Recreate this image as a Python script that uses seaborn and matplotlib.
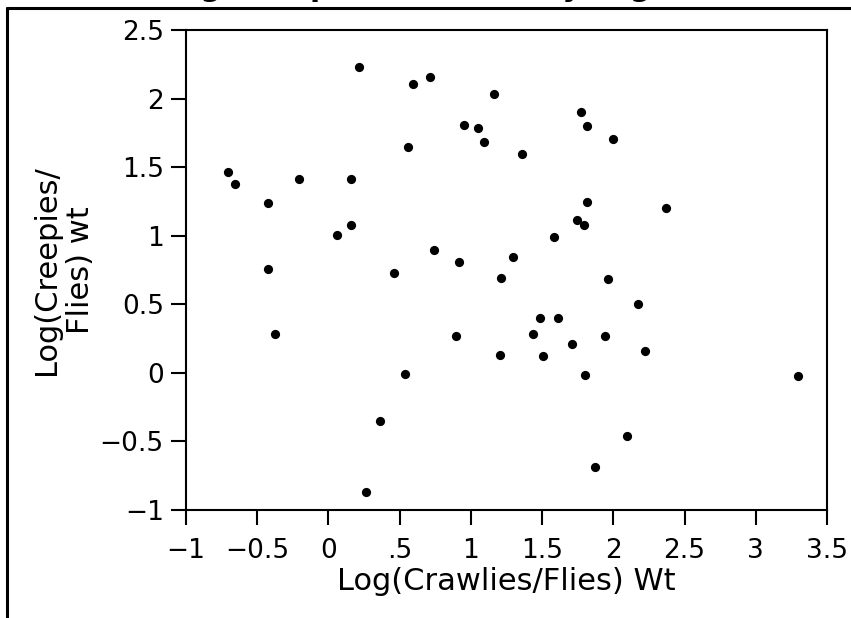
import matplotlib
matplotlib.use("Agg")
import matplotlib.pyplot as plt
import matplotlib.lines as mlines
import seaborn as sns
import pandas as pd

# values
crawlies = [0.217, 0.593, 0.714, 1.160, 0.951, 1.052, 1.092, 0.557, -0.705, -0.654,
            -0.204, 0.157, -0.427, 0.155, 0.061, 0.738, 0.918, 1.771, 1.813, 1.996,
            1.356, 1.813, 2.373, 1.745, 1.797, 1.583, 1.298, -0.424, 0.459, 1.211,
            -0.372, 0.897, 1.207, 0.536, 0.363, 0.265, 1.961, 2.171, 1.485, 1.614,
            1.434, 1.708, 1.944, 2.219, 1.506, 1.799, 3.294, 2.094, 1.871]
creepies = [2.230, 2.105, 2.156, 2.034, 1.807, 1.783, 1.683, 1.648, 1.461, 1.380,
            1.410, 1.417, 1.239, 1.075, 1.007, 0.898, 0.807, 1.899, 1.797, 1.702,
            1.595, 1.246, 1.202, 1.117, 1.080, 0.990, 0.846, 0.756, 0.727, 0.695,
            0.283, 0.266, 0.129, -0.007, -0.353, -0.868, 0.686, 0.505, 0.400, 0.400,
            0.285, 0.212, 0.268, 0.156, 0.124, -0.017, -0.022, -0.459, -0.690]

x_ticks = [-1, -0.5, 0, 0.5, 1, 1.5, 2, 2.5, 3, 3.5]
x_ticklabels = ["\u22121", "\u22120.5", "0", ".5", "1", "1.5", "2", "2.5", "3", "3.5"]
y_ticks = [-1, -0.5, 0, 0.5, 1, 1.5, 2, 2.5]
y_ticklabels = ["\u22121", "\u22120.5", "0", "0.5", "1", "1.5", "2", "2.5"]

df = pd.DataFrame({"crawl": crawlies, "creep": creepies})

sns.set_theme(style="white")
plt.rcParams["font.family"] = ["DejaVu Sans"]

W, H = 851, 618
fig = plt.figure(figsize=(W / 100, H / 100), dpi=100)
ax = fig.add_axes([186 / W, 1 - 510 / H, (827 - 186) / W, (510 - 30) / H])

sns.scatterplot(data=df, x="crawl", y="creep", ax=ax, color="black", s=44,
                linewidth=0, legend=False)

ax.set_xlim(-1, 3.5)
ax.set_ylim(-1, 2.5)
ax.set_xticks(x_ticks)
ax.set_xticklabels(x_ticklabels)
ax.set_yticks(y_ticks)
ax.set_yticklabels(y_ticklabels)
ax.tick_params(direction="out", length=11, width=1.5, color="black",
               labelsize=19, labelcolor="black", bottom=True, left=True)
ax.tick_params(axis="x", pad=9)
ax.tick_params(axis="y", pad=5)
for s in ax.spines.values():
    s.set_color("black")
    s.set_linewidth(1.5)

ax.set_xlabel("Log(Crawlies/Flies) Wt", fontsize=22, color="black", labelpad=2)
ax.set_ylabel("Log(Creepies/\nFlies) wt", fontsize=22, color="black",
              linespacing=1.2)
ax.yaxis.set_label_coords((95 - 186) / 641, 0.5)

# clipped report title along the top edge, only the descenders show
fig.text(162 / W, 1 + 4 / H, "Log(Creepies/Flies) wt By Log(Crawlies/Flies) Wt",
         fontsize=21, fontweight="bold", color="black", ha="left", va="baseline")

# outer frame of the report box
fig.add_artist(mlines.Line2D([7 / W, 7 / W], [0, 1 - 8 / H], color="black", lw=2.2,
                             transform=fig.transFigure))
fig.add_artist(mlines.Line2D([7 / W, 1], [1 - 8 / H, 1 - 8 / H], color="black", lw=2.2,
                             transform=fig.transFigure))

fig.savefig("out.png", dpi=100)
